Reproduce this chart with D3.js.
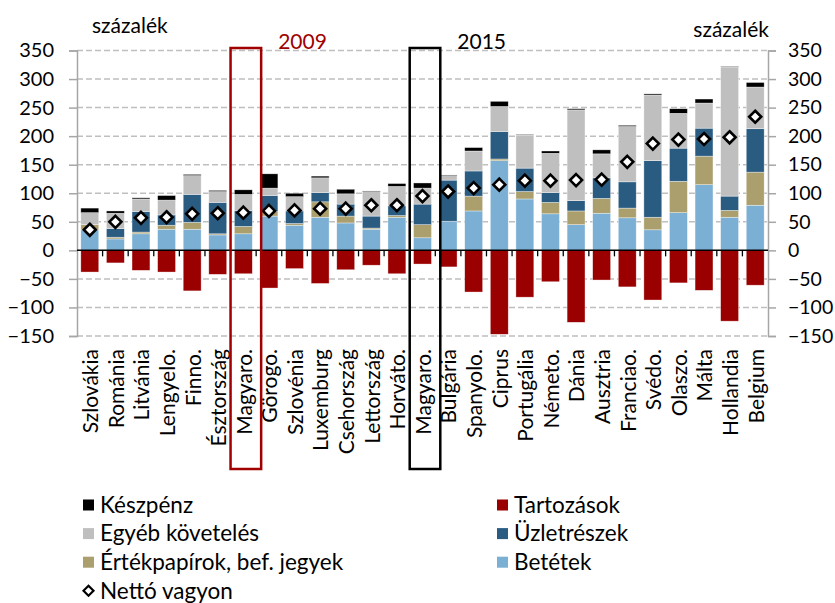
<!DOCTYPE html>
<html>
<head>
<meta charset="utf-8">
<script src="https://cdn.jsdelivr.net/npm/d3@7"></script>
<style>
  html, body { margin: 0; padding: 0; background: #fff; }
  svg text { font-family: Lato, "Noto Sans", sans-serif; fill: #000; }
</style>
</head>
<body>
<svg id="chart" width="835" height="603"></svg>
<script>
// Háztartások pénzügyi eszközei és tartozásai (GDP százalékában)
const categories = ["Szlovákia","Románia","Litvánia","Lengyelo.","Finno.","Észtország","Magyaro.","Görogo.","Szlovénia","Luxemburg","Csehország","Lettország","Horváto.","Magyaro.","Bulgária","Spanyolo.","Ciprus","Portugália","Németo.","Dánia","Ausztria","Franciao.","Svédo.","Olaszo.","Málta","Hollandia","Belgium"];

const betetek    = [36,20,29,37,37,27,29,60,44,58,48,37,58,22,51,69,157,90,64,45,65,57,36,66,115,58,79];
const ertekpapir = [9,3,3,7,12,2,13,8,3,27,12,2,3,23,0,26,3,13,20,24,26,17,22,55,50,12,58];
const uzletresz  = [0,15,36,18,49,55,28,28,22,16,21,21,17,36,72,44,48,41,17,18,36,46,99,58,49,25,76];
const egyeb      = [21,27,22,26,33,19,28,13,25,26,18,43,34,28,8,35,44,58,69,159,42,97,115,61,44,226,73];
const keszpenz   = [8,4,2,8,2,2,8,25,6,3,8,1,5,9,1,6,9,1,4,2,7,2,2,8,7,1,8];
const tartozas   = [-38,-22,-35,-38,-71,-42,-41,-66,-32,-58,-34,-26,-41,-24,-29,-73,-147,-82,-55,-126,-52,-64,-87,-57,-70,-124,-61];
const netto      = [36,50,57,58,64,65,66,69,70,73,73,79,79,95,103,109,115,122,122,123,124,155,187,194,195,198,234];

const yTicks = [-150,-100,-50,0,50,100,150,200,250,300,350];
const highlights = [{ index: 6, label: "2009", color: "#A00000" }, { index: 13, label: "2015", color: "#000000" }];

// stacked asset series, bottom to top
const assetSeries = [
  { key: "Betétek", values: betetek, color: "#7BAFD4" },
  { key: "Értékpapírok, bef. jegyek", values: ertekpapir, color: "#AB9F6E" },
  { key: "Üzletrészek", values: uzletresz, color: "#2A5C82" },
  { key: "Egyéb követelés", values: egyeb, color: "#BFBFBF" },
  { key: "Készpénz", values: keszpenz, color: "#000000" }
];
const debtColor = "#9B0000";

const svg = d3.select("#chart");
const left = 77, right = 768;
const idx = d3.range(categories.length);

const x = d3.scaleBand().domain(idx).range([left, right]).paddingInner(0.3).paddingOuter(0.15);
const xb = d3.scaleBand().domain(idx).range([left, right]); // full category slots
const y = d3.scaleLinear().domain([-150, 350]).range([336, 50.5]);

// gridlines
svg.append("g").selectAll("line").data(yTicks.filter(t => t !== 0)).join("line")
  .attr("x1", left).attr("x2", right)
  .attr("y1", d => y(d)).attr("y2", d => y(d))
  .attr("stroke", "#BFBFBF").attr("stroke-width", 1.5).attr("stroke-dasharray", "6,3");

// left axis
const yl = svg.append("g").attr("transform", `translate(${left},0)`)
  .call(d3.axisLeft(y).tickValues(yTicks).tickSize(8).tickPadding(15));
yl.select(".domain").attr("stroke", "#A6A6A6").attr("stroke-width", 1.5);
yl.selectAll(".tick line").attr("stroke", "#A6A6A6").attr("stroke-width", 1.5);
yl.selectAll(".tick text").style("font-size", "20px").style("font-family", "Lato, sans-serif").attr("fill", "#000");

// right axis
const yr = svg.append("g").attr("transform", `translate(${right},0)`)
  .call(d3.axisRight(y).tickValues(yTicks).tickSize(8).tickPadding(12));
yr.select(".domain").attr("stroke", "#A6A6A6").attr("stroke-width", 1.5);
yr.selectAll(".tick line").attr("stroke", "#A6A6A6").attr("stroke-width", 1.5);
yr.selectAll(".tick text").style("font-size", "19.5px").style("font-family", "Lato, sans-serif").attr("fill", "#000");

// stacked assets
const stackRows = idx.map(i => {
  const r = { i };
  assetSeries.forEach(s => { r[s.key] = s.values[i]; });
  return r;
});
const stacked = d3.stack().keys(assetSeries.map(s => s.key))(stackRows);
svg.append("g").selectAll("g").data(stacked).join("g")
  .attr("fill", (d, k) => assetSeries[k].color)
  .selectAll("rect").data(d => d).join("rect")
  .attr("x", d => x(d.data.i)).attr("width", x.bandwidth())
  .attr("y", d => y(d[1])).attr("height", d => Math.max(0, y(d[0]) - y(d[1])))
  .attr("stroke", "#fff").attr("stroke-width", 0.6).attr("stroke-opacity", 0.6);

// liabilities
svg.append("g").selectAll("rect").data(idx).join("rect")
  .attr("x", i => x(i)).attr("width", x.bandwidth())
  .attr("y", y(0)).attr("height", i => y(tartozas[i]) - y(0))
  .attr("fill", debtColor).attr("stroke", "#fff").attr("stroke-width", 0.6).attr("stroke-opacity", 0.6);

// zero line with category ticks
svg.append("line").attr("x1", left).attr("x2", right).attr("y1", y(0)).attr("y2", y(0))
  .attr("stroke", "#000").attr("stroke-width", 1.5);
svg.append("g").selectAll("line").data(d3.range(1, categories.length)).join("line")
  .attr("x1", i => xb(i)).attr("x2", i => xb(i))
  .attr("y1", y(0)).attr("y2", y(0) + 6)
  .attr("stroke", "#000").attr("stroke-width", 1.3);

// net wealth diamonds
const diamond = "M0,-6L6,0L0,6L-6,0Z";
svg.append("g").selectAll("path").data(idx).join("path")
  .attr("d", diamond)
  .attr("transform", i => `translate(${x(i) + x.bandwidth() / 2},${y(netto[i])})`)
  .attr("fill", "#fff").attr("stroke", "#000").attr("stroke-width", 2.6);

// category labels
svg.append("g").selectAll("text").data(idx).join("text")
  .attr("transform", i => `translate(${xb(i) + xb.bandwidth() / 2 + 1},349) rotate(-90)`)
  .attr("text-anchor", "end").attr("dy", "0.35em")
  .style("font-size", "21px")
  .text(i => categories[i]);

// highlight boxes for Hungary
highlights.forEach(h => {
  const x0 = xb(h.index), x1 = xb(h.index) + xb.bandwidth() + 5;
  svg.append("rect").attr("x", x0).attr("y", 48).attr("width", x1 - x0).attr("height", 421)
    .attr("fill", "none").attr("stroke", h.color).attr("stroke-width", 2.5);
  svg.append("text").attr("x", x1 + 17).attr("y", 49)
    .style("font-size", "21px").style("fill", h.color)
    .text(h.label);
});

// unit labels
svg.append("text").attr("x", 92).attr("y", 33).style("font-size", "21px").text("százalék");
svg.append("text").attr("x", 769).attr("y", 37).attr("text-anchor", "end").style("font-size", "21px").text("százalék");

// legend
const legendItems = [
  { label: "Készpénz", color: "#000000", col: 0, row: 0 },
  { label: "Egyéb követelés", color: "#BFBFBF", col: 0, row: 1 },
  { label: "Értékpapírok, bef. jegyek", color: "#AB9F6E", col: 0, row: 2 },
  { label: "Tartozások", color: debtColor, col: 1, row: 0 },
  { label: "Üzletrészek", color: "#2A5C82", col: 1, row: 1 },
  { label: "Betétek", color: "#7BAFD4", col: 1, row: 2 }
];
const colX = [83, 497];
const rowY = r => 505 + r * 28.6;
const lg = svg.append("g");
legendItems.forEach(it => {
  lg.append("rect").attr("x", colX[it.col]).attr("y", rowY(it.row) - 5.5).attr("width", 11).attr("height", 11).attr("fill", it.color);
  lg.append("text").attr("x", colX[it.col] + 17).attr("y", rowY(it.row)).attr("dy", "0.35em")
    .style("font-size", "22.5px").text(it.label);
});
lg.append("path").attr("d", "M0,-5L5,0L0,5L-5,0Z")
  .attr("transform", `translate(${colX[0] + 5.5},${rowY(3)})`)
  .attr("fill", "#fff").attr("stroke", "#000").attr("stroke-width", 2.2);
lg.append("text").attr("x", colX[0] + 17).attr("y", rowY(3)).attr("dy", "0.35em")
  .style("font-size", "22.5px").text("Nettó vagyon");
</script>
</body>
</html>
